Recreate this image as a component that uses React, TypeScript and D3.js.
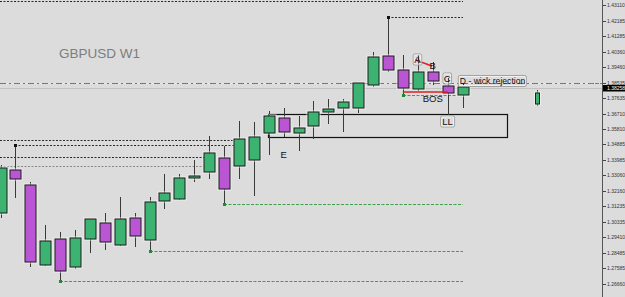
import React from "react";
import * as d3 from "d3";

// ---- data (GBPUSD W1) ----
const opens = [1.30846, 1.33381, 1.32497, 1.2778, 1.29313, 1.27662, 1.29313, 1.30257, 1.28959, 1.30551, 1.29254, 1.31554, 1.31672, 1.3291, 1.33264, 1.34089, 1.33617, 1.33971, 1.35563, 1.36447, 1.35563, 1.35976, 1.36801, 1.37037, 1.37037, 1.38393, 1.40103, 1.39278, 1.38157, 1.3916, 1.38334, 1.37804];
const highs = [1.33676, 1.34856, 1.32674, 1.30139, 1.29726, 1.29844, 1.30492, 1.30846, 1.3179, 1.30846, 1.3179, 1.33146, 1.33146, 1.33971, 1.35386, 1.34797, 1.36271, 1.36212, 1.3686, 1.37037, 1.36565, 1.3745, 1.37568, 1.37568, 1.38511, 1.40339, 1.42402, 1.40162, 1.40162, 1.39749, 1.38806, 1.38511];
const lows = [1.30551, 1.31731, 1.27662, 1.27721, 1.26837, 1.27544, 1.28488, 1.28665, 1.289, 1.28841, 1.28606, 1.31082, 1.31613, 1.32674, 1.32851, 1.31377, 1.32851, 1.31848, 1.34266, 1.35327, 1.34502, 1.35209, 1.36094, 1.35622, 1.36742, 1.38275, 1.3916, 1.37804, 1.38039, 1.38393, 1.36624, 1.37037];
const closes = [1.33499, 1.32851, 1.27957, 1.29195, 1.27426, 1.29372, 1.30492, 1.29136, 1.30492, 1.2949, 1.31495, 1.32025, 1.3291, 1.33028, 1.34384, 1.32261, 1.35209, 1.35327, 1.36565, 1.35622, 1.35858, 1.36801, 1.36978, 1.37391, 1.38511, 1.40044, 1.39278, 1.38216, 1.3916, 1.38629, 1.37921, 1.38275];

// small separate candle on the right
const extraIndex = [36];
const extraOHLC = [[1.37273, 1.38098, 1.37155, 1.37921]];

const tickValues = [1.2666, 1.27585, 1.28485, 1.2941, 1.30335, 1.31235, 1.3216, 1.3306, 1.33985, 1.34885, 1.3581, 1.3671, 1.37635, 1.38535, 1.3946, 1.4036, 1.41285, 1.42185, 1.4311];

const currentPrice = 1.38258;
const redLevel = 1.3853;

// level lines: [price, startIndex, endIndex, kind]
const blackLevels: [number, number, number, string][] = [
  [1.43375, -2, 31, "dark"],
  [1.42402, 26, 31, "dark"],
  [1.3515, -2, 16, "dark"],
  [1.34856, 1, 16, "dark"],
  [1.34148, -2, 14, "dark"],
  [1.33617, -2, 14, "light"],
];
const greenLevels: [number, number, number][] = [
  [1.31377, 15, 31],
  [1.28606, 10, 31],
  [1.26837, 4, 31],
  [1.37804, 27, 30.6],
];
const blackMarkers: [number, number][] = [[1, 1.34856], [26, 1.42402]];
const greenMarkers: [number, number][] = [[4, 1.26837], [10, 1.28606], [15, 1.31377], [27, 1.37804]];

const redSegments: [number, number, number, number][] = [
  [27.85, 1.39867, 28.95, 1.39513],
  [27, 1.3798, 30, 1.3798],
];

const zone = { i0: 17.95, i1: 34, p0: 1.36683, p1: 1.35327 };

// labels: [text, index, price, boxed]
const labels: [string, number, number, boolean][] = [
  ["A", 27.98, 1.39867, true],
  ["B", 29, 1.39513, false],
  ["C", 29.98, 1.3875, true],
  ["BOS", 29, 1.3757, false],
  ["LL", 30, 1.36212, true],
  ["E", 19, 1.34266, false],
];
const dLabel = { text: "D - wick rejection", index: 30.82, price: 1.38629 };

const xScale = d3.scaleLinear().domain([0, 31]).range([0.5, 462.5]);
const yScale = d3.scaleLinear().domain([1.2666, 1.4311]).range([284, 5]);

const W = 625;
const H = 297;
const AX = 602;
const BG = "#dcdcdc";
const GREEN = "#3cb371";
const PURPLE = "#ba55d3";
const FONT = "'Liberation Sans', Arial, sans-serif";

function Candle({ cx, o, h, l, c, half }: { cx: number; o: number; h: number; l: number; c: number; half: number }) {
  const up = c >= o;
  const yTop = yScale(Math.max(o, c));
  const yBot = yScale(Math.min(o, c));
  const x = Math.round(cx) + 0.5;
  return (
    <g>
      <line x1={x} x2={x} y1={yScale(h)} y2={yScale(l)} stroke="#3a3a3a" strokeWidth={1} />
      <rect x={x - half - 1} y={yTop - 1} width={half * 2 + 2} height={Math.max(yBot - yTop, 1) + 2} fill="none" stroke="#f2f2f2" strokeWidth={1} strokeOpacity={0.8} />
      <rect x={x - half} y={yTop} width={half * 2} height={Math.max(yBot - yTop, 1)} fill={up ? GREEN : PURPLE} stroke="#1e1e1e" strokeWidth={1} />
    </g>
  );
}

export default function App() {
  const fmt = (v: number) => v.toFixed(5);
  const yRed = Math.round(yScale(redLevel)) + 0.5;
  const yCur = Math.round(yScale(currentPrice)) + 0.5;
  return (
    <svg width={W} height={H} style={{ position: "absolute", left: 0, top: 0, background: BG }} fontFamily={FONT}>
      <rect x={0} y={0} width={W} height={H} fill={BG} />
      <defs>
        <clipPath id="plot">
          <rect x={0} y={0} width={AX} height={H} />
        </clipPath>
      </defs>
      <g clipPath="url(#plot)">
        {/* title */}
        <text x={59} y={58} fontSize={13.5} fill="#7d7d7d">GBPUSD W1</text>

        {/* red dash-dot level */}
        <line x1={0} x2={AX} y1={yRed} y2={yRed} stroke="#d8ecec" strokeWidth={1} />
        <line x1={0} x2={AX} y1={yRed} y2={yRed} stroke="#e64848" strokeWidth={1} strokeDasharray="6,3,2,3" />
        {/* current price line */}
        <line x1={0} x2={AX} y1={yCur + 1} y2={yCur + 1} stroke="#c2c2c2" strokeWidth={1} />

        {/* black dotted levels */}
        {blackLevels.map(([p, i0, i1, kind], k) => {
          const y = Math.round(yScale(p)) + 0.5;
          return (
            <line key={"bl" + k} x1={Math.max(0, Math.round(xScale(i0)))} x2={Math.round(xScale(i1))} y1={y} y2={y}
              stroke={kind === "dark" ? "#2a2a2a" : "#8a8a8a"} strokeWidth={1} strokeDasharray="2,1.5" />
          );
        })}
        {greenLevels.map(([p, i0, i1], k) => {
          const y = Math.round(yScale(p)) + 0.5;
          return (
            <line key={"gl" + k} x1={Math.round(xScale(i0))} x2={Math.round(xScale(i1))} y1={y} y2={y}
              stroke="#3f9f4f" strokeWidth={1} strokeDasharray="3,1.5" />
          );
        })}

        {/* zone rectangle */}
        <rect x={Math.round(xScale(zone.i0)) + 0.5} y={Math.round(yScale(zone.p0)) + 0.5}
          width={Math.round(xScale(zone.i1) - xScale(zone.i0))} height={Math.round(yScale(zone.p1) - yScale(zone.p0))}
          fill="none" stroke="#111" strokeWidth={1.2} />

        {/* candles */}
        {opens.map((o, i) => (
          <Candle key={i} cx={xScale(i)} o={o} h={highs[i]} l={lows[i]} c={closes[i]} half={5.5} />
        ))}
        {extraIndex.map((idx, k) => (
          <Candle key={"x" + k} cx={xScale(idx)} o={extraOHLC[k][0]} h={extraOHLC[k][1]} l={extraOHLC[k][2]} c={extraOHLC[k][3]} half={2} />
        ))}

        {/* markers */}
        {blackMarkers.map(([i, p], k) => (
          <rect key={"bm" + k} x={Math.round(xScale(i)) - 1} y={Math.round(yScale(p)) - 1} width={3} height={3} fill="#111" />
        ))}
        {greenMarkers.map(([i, p], k) => (
          <rect key={"gm" + k} x={Math.round(xScale(i)) - 1} y={Math.round(yScale(p)) - 1} width={3} height={3} fill="#1f8a2f" />
        ))}

        {/* red segments */}
        {redSegments.map(([i0, p0, i1, p1], k) => (
          <line key={"rs" + k} x1={xScale(i0)} y1={yScale(p0)} x2={xScale(i1)} y2={yScale(p1)} stroke="#e02020" strokeWidth={1.5} />
        ))}

        {/* labels */}
        {labels.map(([t, i, p, boxed], k) => {
          const x = xScale(i);
          const y = yScale(p);
          const w = t.length * 5.5 + 3;
          return (
            <g key={"lb" + k}>
              {boxed && <rect x={x - w / 2} y={y - 6} width={w} height={11} rx={1.5} fill="none" stroke="#a0a0a0" strokeWidth={1} />}
              {boxed && <rect x={x - w / 2 + 1} y={y - 5} width={w - 2} height={9} rx={1} fill="none" stroke="#f6f6f6" strokeWidth={0.8} />}
              <text x={x} y={y + 3.3} fontSize={9.5} textAnchor="middle" fill="#111">{t}</text>
            </g>
          );
        })}
        <g>
          <rect x={xScale(dLabel.index) - 1.5} y={yScale(dLabel.price) - 5.5} width={68} height={11} rx={1.5} fill="none" stroke="#a0a0a0" strokeWidth={1} />
          <rect x={xScale(dLabel.index) - 0.5} y={yScale(dLabel.price) - 4.5} width={66} height={9} rx={1} fill="none" stroke="#f6f6f6" strokeWidth={0.8} />
          <text x={xScale(dLabel.index)} y={yScale(dLabel.price) + 3} fontSize={8.6} fill="#111">{dLabel.text}</text>
        </g>
      </g>

      {/* price axis */}
      <line x1={AX + 0.5} x2={AX + 0.5} y1={0} y2={H} stroke="#555" strokeWidth={1} />
      {tickValues.map((v, k) => {
        const y = Math.round(yScale(v)) + 0.5;
        return (
          <g key={"t" + k}>
            <line x1={AX + 1} x2={AX + 4} y1={y} y2={y} stroke="#444" strokeWidth={1} />
            <text x={AX + 5} y={y + 1.8} fontSize={5} fill="#333">{fmt(v)}</text>
          </g>
        );
      })}
      <line x1={AX - 12} x2={AX} y1={yRed} y2={yRed} stroke="#e05555" strokeWidth={1} strokeDasharray="3,2" />
      <rect x={AX + 1} y={yCur - 2.5} width={W - AX - 1} height={6.5} fill="#000" />
      <text x={AX + 5} y={yCur + 2.6} fontSize={5} fill="#fff">{fmt(currentPrice)}</text>
    </svg>
  );
}
